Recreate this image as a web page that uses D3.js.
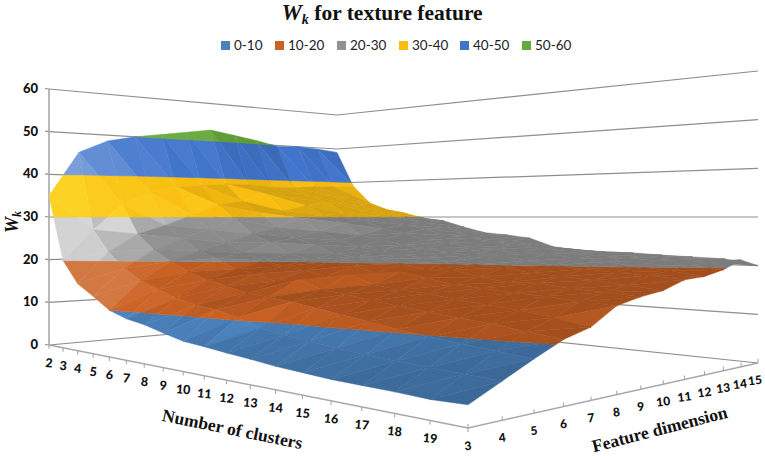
<!DOCTYPE html>
<html><head><meta charset="utf-8">
<script src="https://cdn.jsdelivr.net/npm/d3@7"></script>
<style>html,body{margin:0;padding:0;background:#fff}svg{display:block}</style>
</head><body><svg id="c" width="765" height="456"></svg>
<script>
const clusters=[2,3,4,5,6,7,8,9,10,11,12,13,14,15,16,17,18,19,20];
const clusterLabels=["2","3","4","5","6","7","8","9","10","11","12","13","14","15","16","17","18","19",""];
const dims=[3,4,5,6,7,8,9,10,11,12,13,14,15];
const zTicks=[0,10,20,30,40,50,60];
const bands=["0-10","10-20","20-30","30-40","40-50","50-60"];
const bandColors=["#4a82bc","#cb6224","#929292","#f9bd10","#4175cc","#66a93c"];
const bandFloor=[0.8,0.8,0.85,0.86,0.85,0.85];
const bandLift=[0.2,0.14,0.9,0.5,0.3,0.2];
const wk=[
[35,45.5,48.6,50,51,52,53,52,51,49.7,50,49.6,49],
[20,27,33,36,37.5,38,38.5,38.5,38,38,38.5,38.5,39],
[15,22,26,28,30.5,33,34,36,35,35.5,36,35,34],
[12.6,18.5,22.5,25,27,29.5,31,31.5,33,34,33.5,33,32],
[10,16,20,22.3,24,26,27.5,29.8,30.5,31,31.5,31.2,31],
[8.7,14.5,18,20.7,21.8,24,25,26.5,28.5,29.2,30.2,30,29.7],
[8,13,16.5,18.5,20.2,21.5,23.5,24.5,25.5,27,28,28.6,29],
[6.9,12,15.5,17.8,19.2,20.5,21.5,23,24.5,26,27,27.2,27.4],
[5.9,11.5,14.5,16.5,18.5,20.2,21,22.3,23.5,24.5,25.5,26,26],
[5.5,10.5,14,17.2,17.5,19.5,20.8,21.5,22.8,24,25,25.2,25.5],
[5,9,13.5,15.6,18.3,18.2,20,21,22,23,24.2,24.2,24.8],
[4.6,8.3,12.8,15,16.5,18.8,18.8,20.5,21.6,22.8,23.5,23.2,22.8],
[4.1,7.8,12,14.2,15.8,17.8,19.2,20,21.8,22,23.2,22.8,22.2],
[3.8,7.2,11.3,13.6,15.5,16.8,18,19.6,20.8,22.3,22.4,22.3,21.9],
[3.5,6.8,10.5,13,14.8,16.5,17.3,18.8,20.1,21.2,21.8,22,21.9],
[3.4,6.5,9.8,12.5,14.3,16,17.5,18.4,19.6,20.8,21.5,21.7,21.6],
[3.3,6.2,9.3,12,13.8,15.8,16.8,18,19.2,20.1,21,21.3,21.4],
[3.1,6,8.8,11.3,13,15.3,16.5,17.4,18.9,19.5,20.4,20.9,21.2],
[3.3,5.8,8.3,10.6,12,15,16.1,16.8,18.4,18.7,19.7,21.4,20]
];

const svg=d3.select("#c");
const A=[49,345],B=[468,428],C=[758,363],D=[337,319],horizon=217;
const dx1=B[0]-C[0],dx2=D[0]-C[0],sx=A[0]-B[0]+C[0]-D[0];
const dy1=B[1]-C[1],dy2=D[1]-C[1],sy=A[1]-B[1]+C[1]-D[1];
const det=dx1*dy2-dx2*dy1;
const g=(sx*dy2-dx2*sy)/det,h=(dx1*sy-sx*dy1)/det;
const a=B[0]-A[0]+g*B[0],b=D[0]-A[0]+h*D[0],e=B[1]-A[1]+g*B[1],f=D[1]-A[1]+h*D[1];
const uS=d3.scaleLinear().domain([2,20]).range([0,1]);
const vS=d3.scaleLinear().domain([3,15]).range([0,1]);
const zS=d3.scaleLinear().domain([0,30]).range([0,1]);
function proj(c,d,z){
  const u=uS(c),v=vS(d),w=g*u+h*v+1;
  const x=(a*u+b*v+A[0])/w,y=(e*u+f*v+A[1])/w;
  return [x,y-(y-horizon)*zS(z)];
}
const grid="#8e8e8e",axisCol="#a8a8a8";
const lineG=svg.append("g");
function seg(p,q,col,w){lineG.append("line").attr("x1",p[0]).attr("y1",p[1]).attr("x2",q[0]).attr("y2",q[1]).attr("stroke",col).attr("stroke-width",w);}
zTicks.forEach(z=>{
  const l=proj(2,3,z),m=proj(2,15,z),r=proj(20,15,z);
  seg([45,l[1]-0.5],l,grid,1.2);seg(l,m,grid,1.2);seg(m,r,grid,1.2);
  svg.append("text").attr("x",38).attr("y",l[1]+0.5).attr("text-anchor","end").attr("dominant-baseline","middle")
    .attr("font-family","Lato").attr("font-weight",900).attr("font-size",13).attr("fill","#111").text(z);
});
seg(proj(2,3,0),proj(2,3,60),axisCol,1.6);
seg(proj(2,3,0),proj(20,3,0),axisCol,1.5);seg(proj(20,3,0),proj(20,15,0),axisCol,1.5);
clusters.forEach((c,i)=>{
  const p=proj(c,3,0);seg(p,[p[0],p[1]+4],axisCol,1.1);
  if(clusterLabels[i])svg.append("text").attr("transform",`translate(${p[0]},${p[1]+19}) rotate(5)`).attr("text-anchor","middle").attr("dominant-baseline","middle")
    .attr("font-family","Lato").attr("font-weight",900).attr("font-size",12.5).attr("fill","#111").text(clusterLabels[i]);
});
dims.forEach(d=>{
  const p=proj(20,d,0);seg(p,[p[0],p[1]-4],axisCol,1.1);
  svg.append("text").attr("transform",`translate(${p[0]-(d==15?3:d==14?1:0)},${p[1]+(d==3?19:18.5)}) rotate(-7)`).attr("text-anchor","middle").attr("dominant-baseline","middle")
    .attr("font-family","Lato").attr("font-weight",900).attr("font-size",12).attr("fill","#111").text(d);
});

function clipZ(poly,lo,hi){
  function clip(pts,inside,level){
    const out=[];
    pts.forEach((p,i)=>{
      const q=pts[(i+1)%pts.length],ip=inside(p),iq=inside(q);
      if(ip)out.push(p);
      if(ip!==iq){const t=(level-p[2])/(q[2]-p[2]);out.push([p[0]+t*(q[0]-p[0]),p[1]+t*(q[1]-p[1]),level]);}
    });
    return out;
  }
  let r=clip(poly,p=>p[2]>=lo,lo);
  if(r.length)r=clip(r,p=>p[2]<=hi,hi);
  return r;
}
const L=[0.6,-0.6,0.53],zk=0.1;
function shade(t){
  const ux=t[1][0]-t[0][0],uy=t[1][1]-t[0][1],uz=(t[1][2]-t[0][2])*zk;
  const vx=t[2][0]-t[0][0],vy=t[2][1]-t[0][1],vz=(t[2][2]-t[0][2])*zk;
  let n=[uy*vz-uz*vy,uz*vx-ux*vz,ux*vy-uy*vx];
  if(n[2]<0)n=n.map(k=>-k);
  const len=Math.hypot(...n);
  return (n[0]*L[0]+n[1]*L[1]+n[2]*L[2])/len;
}
const surf=svg.append("g");
const line=d3.line();
function tri(t){
  const I=shade(t);
  bands.forEach((_,i)=>{
    const lo=i*10,hi=lo+10,poly=clipZ(t,lo,hi);
    if(poly.length<3)return;
    const k=Math.max(bandFloor[i],0.88+1.4*(I-0.73));
    const base=d3.rgb(bandColors[i]);
    const col=k<=1? d3.rgb(base.r*k,base.g*k,base.b*k)
      : d3.interpolateRgb(base,i==3?"#fff040":"#ffffff")(Math.min(bandLift[i],(k-1)*(i==2?3:2)));
    const pts=poly.map(p=>proj(p[0],p[1],p[2]));
    surf.append("path").attr("d",line(pts)+"Z").attr("fill",col).attr("stroke",col).attr("stroke-width",0.5).attr("stroke-linejoin","round");
  });
}
for(let i=0;i<clusters.length-1;i++){
  for(let j=dims.length-2;j>=0;j--){
    const P=(r,s)=>[clusters[r],dims[s],wk[r][s]];
    const p00=P(i,j),p01=P(i,j+1),p10=P(i+1,j),p11=P(i+1,j+1);
    tri([p00,p01,p11]);
    tri([p00,p11,p10]);
  }
}
const title=svg.append("text").attr("x",382).attr("y",20).attr("text-anchor","middle").attr("font-family","Liberation Serif").attr("font-weight",700).attr("font-size",21.5).attr("fill","#111");
title.append("tspan").attr("font-style","italic").attr("font-size",23).text("W");
title.append("tspan").attr("font-style","italic").attr("font-size",14).attr("dy",4).text("k");
title.append("tspan").attr("dy",-4).text(" for texture feature");
const legX=[221,275,337,399,460,522];
bands.forEach((b,i)=>{
  svg.append("rect").attr("x",legX[i]).attr("y",41).attr("width",9).attr("height",9).attr("fill",bandColors[i]);
  svg.append("text").attr("x",legX[i]+13).attr("y",50).attr("font-family","Lato").attr("font-size",13.5).attr("fill","#222").text(b);
});
const at=(x,y,r,txt)=>svg.append("text").attr("transform",`translate(${x},${y}) rotate(${r})`).attr("text-anchor","middle").attr("dominant-baseline","middle")
  .attr("font-family","Liberation Serif").attr("font-weight",700).attr("font-size",17.5).attr("fill","#111").text(txt);
at(232,431,11.5,"Number of clusters");
at(660,431,-14.5,"Feature dimension");
const yl=svg.append("text").attr("transform","translate(18,222) rotate(-90)").attr("text-anchor","middle").attr("font-family","Liberation Serif").attr("font-weight",700).attr("font-style","italic").attr("font-size",18).attr("fill","#111");
yl.append("tspan").text("W");yl.append("tspan").attr("font-size",12).attr("dy",3).text("k");
</script></body></html>
